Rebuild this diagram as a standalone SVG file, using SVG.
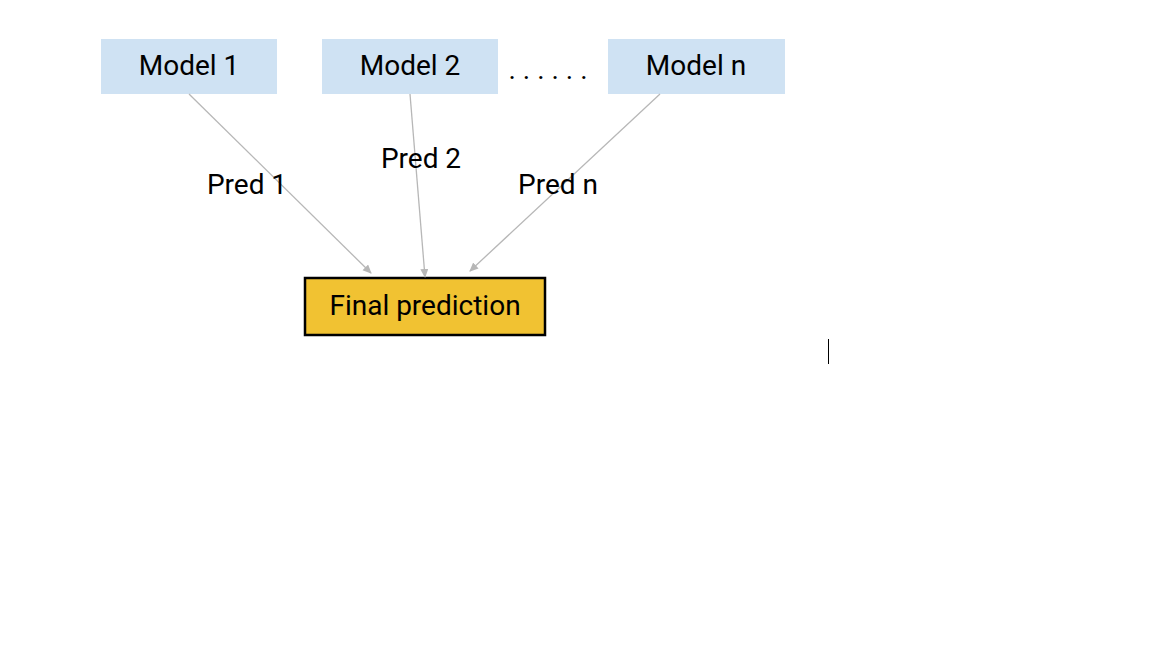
<svg xmlns="http://www.w3.org/2000/svg" width="1152" height="648" viewBox="0 0 1152 648">
<defs>
<marker id="arr" markerWidth="10" markerHeight="10" refX="8" refY="4" orient="auto" markerUnits="userSpaceOnUse">
<path d="M0,0 L9,4 L0,8 Z" fill="#b7b7b7"/>
</marker>
<style>
.model{fill:#cfe2f3;}
.t{font-family:Roboto,"Liberation Sans",sans-serif;font-size:28px;fill:#000;text-anchor:middle;}
.c{stroke:#b7b7b7;stroke-width:1.3;fill:none;marker-end:url(#arr);}
</style>
</defs>
<rect width="1152" height="648" fill="#fff"/>
<g id="model1"><rect class="model" x="101" y="39" width="176" height="55"/><text class="t" x="189" y="75">Model 1</text></g>
<g id="model2"><rect class="model" x="322" y="39" width="176" height="55"/><text class="t" x="410" y="75">Model 2</text></g>
<g id="modeln"><rect class="model" x="608" y="39" width="177" height="55"/><text class="t" x="696" y="75">Model n</text></g>
<g id="dots"><text class="t" x="548" y="79">. . . . . .</text></g>
<g id="final"><rect x="305" y="278" width="240" height="57" fill="#f1c232" stroke="#000" stroke-width="2.5"/><text class="t" x="425" y="315">Final prediction</text></g>
<g id="connectors">
<line class="c" x1="189" y1="94" x2="371" y2="273"/>
<line class="c" x1="410" y1="94" x2="425" y2="277"/>
<line class="c" x1="660" y1="94" x2="470" y2="271"/>
</g>
<g id="labels">
<text class="t" x="247" y="194">Pred 1</text>
<text class="t" x="421" y="168">Pred 2</text>
<text class="t" x="558" y="194">Pred n</text>
</g>
<line x1="828.5" y1="339" x2="828.5" y2="364" stroke="#000" stroke-width="1"/>
</svg>
